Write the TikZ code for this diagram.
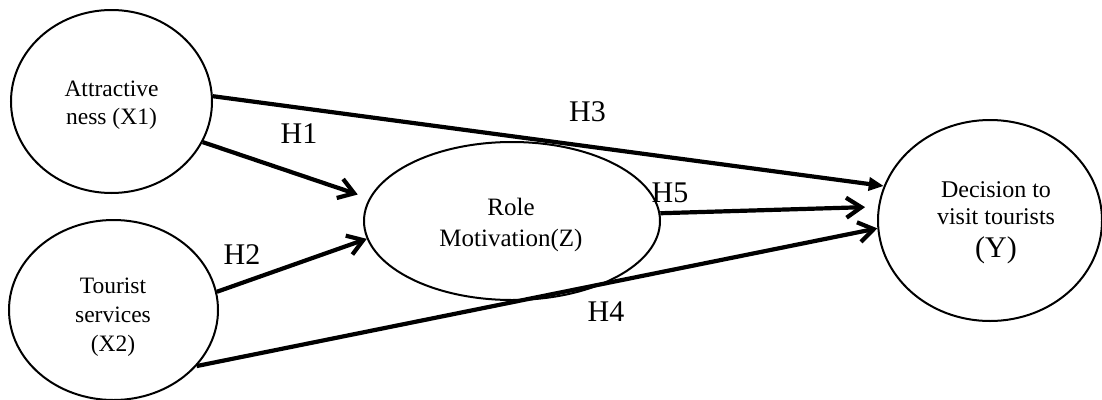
\documentclass[tikz,border=0pt]{standalone}
\usepackage{fontspec}
\setmainfont{Liberation Serif}
\usetikzlibrary{shapes.geometric,arrows.meta}
\begin{document}
\begin{tikzpicture}[x=1pt,y=-1pt,
  ell/.style={draw, line width=2pt, ellipse, inner sep=0pt},
  txt/.style={inner sep=0pt, align=center, font=\fontsize{23.5}{27.5}\selectfont},
  hyp/.style={inner sep=0pt, font=\fontsize{30}{32}\selectfont},
  arr/.style={line width=4.2pt, -{Straight Barb[length=15pt,width=20pt]}},
  farr/.style={line width=4.2pt, -{Triangle[length=15pt,width=13pt]}}]
\useasboundingbox (0,0) rectangle (1102,399);
% ellipses
\node[ell, minimum width=201pt, minimum height=183pt] (X1) at (111.5,101.5) {};
\node[ell, minimum width=209pt, minimum height=180pt] (X2) at (113.5,310) {};
\node[ell, minimum width=296pt, minimum height=158pt] (Z) at (512,221) {};
\node[ell, minimum width=224pt, minimum height=201pt] (Y) at (990,220.5) {};
% texts
\node[txt] (X1t) at (111.5,105.3) {Attractive\\ness (X1)};
\node[txt, font=\fontsize{23.5}{29}\selectfont] (X2t) at (113,317) {Tourist\\services\\(X2)};
\node[txt, font=\fontsize{25}{30.7}\selectfont] (Zt) at (511,224.8) {Role\\Motivation(Z)};
\node[txt, font=\fontsize{24}{26.7}\selectfont] (Yt) at (996,222.9) {Decision to\\visit tourists\\[7pt]{\fontsize{30}{30}\selectfont (Y)}};
% connectors
\draw[arr, shorten >=12pt] (X1.-24) -- (Z.171);
\draw[arr] (X2.10) -- (Z.187);
\draw[farr] (X1.3) -- (Y.162);
\draw[arr] (X2.-34) -- (Y.184);
\draw[arr, shorten >=13pt] (Z.3) -- (Y.173);
% labels
\node[hyp] (h1) at (299,134) {H1};
\node[hyp] (h2) at (242,255) {H2};
\node[hyp] (h3) at (587.5,111.7) {H3};
\node[hyp] (h4) at (606,312) {H4};
\node[hyp] (h5) at (670,192.5) {H5};
\end{tikzpicture}
\end{document}
